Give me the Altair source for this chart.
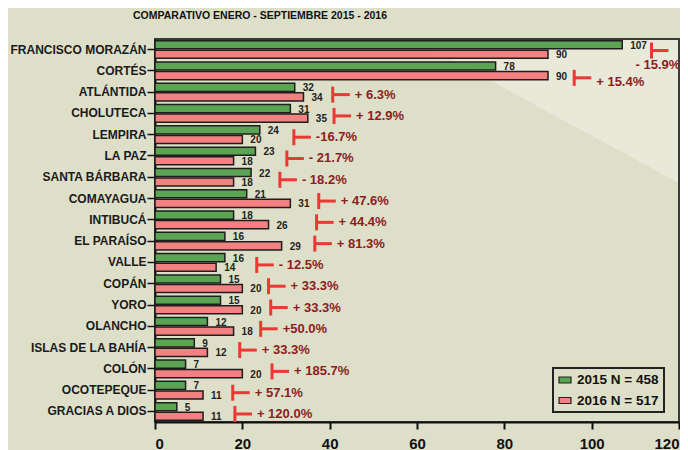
import altair as alt
import pandas as pd

categories = ["FRANCISCO MORAZÁN", "CORTÉS", "ATLÁNTIDA", "CHOLUTECA", "LEMPIRA",
              "LA PAZ", "SANTA BÁRBARA", "COMAYAGUA", "INTIBUCÁ", "EL PARAÍSO",
              "VALLE", "COPÁN", "YORO", "OLANCHO", "ISLAS DE LA BAHÍA", "COLÓN",
              "OCOTEPEQUE", "GRACIAS A DIOS"]
cases_2015 = [107, 78, 32, 31, 24, 23, 22, 21, 18, 16, 16, 15, 15, 12, 9, 7, 7, 5]
cases_2016 = [90, 90, 34, 35, 20, 18, 18, 31, 26, 29, 14, 20, 20, 18, 12, 20, 11, 11]
change_labels = ["- 15.9%", "+ 15.4%", "+ 6.3%", "+ 12.9%", "-16.7%", "- 21.7%",
                 "- 18.2%", "+ 47.6%", "+ 44.4%", "+ 81.3%", "- 12.5%", "+ 33.3%",
                 "+ 33.3%", "+50.0%", "+ 33.3%", "+ 185.7%", "+ 57.1%", "+ 120.0%"]
# where the red change marker sits, in case units
marker_at = [113.7, 96.0, 40.7, 41.0, 31.8, 30.2, 28.6, 37.5, 37.0, 36.6,
             23.3, 26.0, 26.5, 24.2, 19.4, 26.8, 17.8, 18.3]
series_names = ["2015 N = 458", "2016 N = 517"]
x_ticks = [0, 20, 40, 60, 80, 100, 120]
subtitle = "COMPARATIVO ENERO - SEPTIEMBRE 2015 - 2016"

long_df = pd.DataFrame(
    [{"category": c, "series": series_names[0], "value": a} for c, a in zip(categories, cases_2015)]
    + [{"category": c, "series": series_names[1], "value": b} for c, b in zip(categories, cases_2016)]
)
wide_df = pd.DataFrame({"category": categories, "change": change_labels, "marker": marker_at})

BG_DARK = "#dedfc9"
BG_LIGHT = "#e9e9da"
RED = "#ec3833"
DARKRED = "#8c1d1d"
FONT = "Liberation Sans"

y_enc = alt.Y("category:N", sort=categories, title=None,
              scale=alt.Scale(paddingInner=0.17, paddingOuter=0.08),
              axis=alt.Axis(labelFont=FONT, labelFontSize=12, labelFontWeight="bold",
                            labelColor="#1a1a1a", tickSize=8, tickWidth=1.5,
                            tickColor="#111", domainColor="#111", domainWidth=2,
                            labelPadding=1, grid=False))
x_scale = alt.Scale(domain=[0, 120], nice=False)

bars = alt.Chart(long_df).mark_bar(stroke="#1e1e1e", strokeWidth=1.5).encode(
    x=alt.X("value:Q", scale=x_scale, title=None,
            axis=alt.Axis(values=x_ticks, format="d", labelFont=FONT, labelFontSize=15,
                          labelFontWeight="bold", labelColor="#111", tickSize=7,
                          tickWidth=2, tickColor="#111", domainColor="#111",
                          domainWidth=2, labelPadding=7, grid=False)),
    y=y_enc,
    yOffset=alt.YOffset("series:N", sort=series_names, scale=alt.Scale(paddingInner=0.15)),
    color=alt.Color("series:N", scale=alt.Scale(domain=series_names, range=["#5aa453", "#f38181"]),
                    legend=alt.Legend(title=None, orient="none", legendX=398, legendY=329,
                                      labelFont=FONT, labelFontSize=13.5, labelFontWeight="bold",
                                      labelColor="#111", symbolType="M-1,-0.5L1,-0.5L1,0.5L-1,0.5Z",
                                      symbolSize=144, symbolStrokeColor="#222",
                                      symbolStrokeWidth=1.2, padding=5, rowPadding=6.5,
                                      labelOffset=5, strokeColor="#222")),
)

values = alt.Chart(long_df).mark_text(align="left", baseline="middle", dx=8, dy=1,
                                      font=FONT, fontSize=10, fontWeight="bold",
                                      color="#222").encode(
    x=alt.X("value:Q", scale=x_scale),
    y=alt.Y("category:N", sort=categories),
    yOffset=alt.YOffset("series:N", sort=series_names),
    text="value:Q",
)


def annotation(filter_pred, marker_shift, text_dx, text_dy):
    base = alt.Chart(wide_df).transform_filter(filter_pred)
    stems = base.mark_tick(orient="vertical", thickness=3, size=16, color=RED,
                           opacity=1, yOffset=marker_shift).encode(
        x=alt.X("marker:Q", scale=x_scale),
        y=alt.Y("category:N", sort=categories),
    )
    arms = base.transform_calculate(
        marker_end="datum.marker + 3.9"
    ).mark_rule(strokeWidth=3, color=RED, yOffset=marker_shift).encode(
        x=alt.X("marker:Q", scale=x_scale),
        x2="marker_end:Q",
        y=alt.Y("category:N", sort=categories),
    )
    text = base.mark_text(align="left", baseline="middle", dx=text_dx, dy=text_dy,
                          font=FONT, fontSize=13, fontWeight="bold",
                          color=DARKRED).encode(
        x=alt.X("marker:Q", scale=x_scale),
        y=alt.Y("category:N", sort=categories),
        text="change:N",
    )
    return [stems, arms, text]


first, second = categories[0], categories[1]
rest_pred = (alt.datum.category != first) & (alt.datum.category != second)
annots = (annotation(alt.datum.category == first, 1, -16, 15.5)
          + annotation(alt.datum.category == second, 7, 22, 11.5)
          + annotation(rest_pred, 2.5, 22, 2.5))

gradient_expr = (
    "{gradient: 'linear', x1: 0.118, y1: 0.506, x2: 0.870, y2: -0.506, "
    "stops: [{offset: 0, color: '" + BG_DARK + "'}, {offset: 0.5, color: '" + BG_DARK + "'}, "
    "{offset: 0.5, color: '" + BG_LIGHT + "'}, {offset: 1, color: '" + BG_LIGHT + "'}]}"
)

chart = alt.layer(bars, values, *annots).properties(
    width=524, height=383,
    autosize=alt.AutoSizeParams(type="none"),
    padding={"left": 147, "top": 31, "right": 1, "bottom": 28},
    background=BG_DARK,
    title=alt.TitleParams(subtitle, font=FONT, fontSize=10.5,
                          fontWeight="bold", color="#111", anchor="middle",
                          frame="group", dx=-157, offset=18),
).configure_view(
    stroke="#3a3a3a", strokeWidth=2, fill={"expr": gradient_expr}
).configure_legend(
    strokeWidth=2
)

chart.save("out.html", embed_options={"renderer": "svg", "actions": False})
